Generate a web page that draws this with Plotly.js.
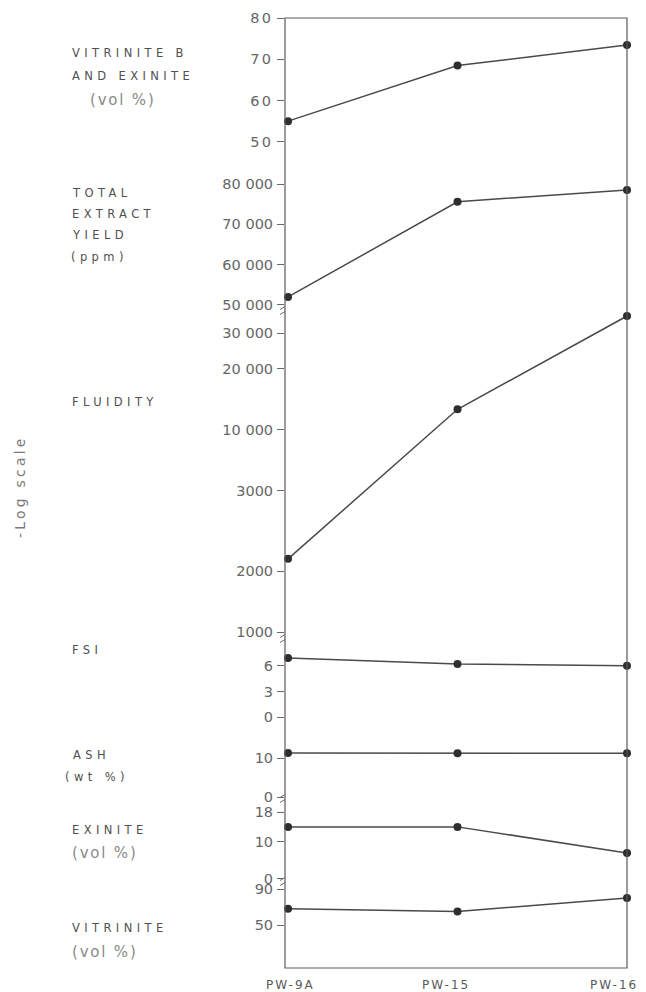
<!DOCTYPE html>
<html>
<head>
<meta charset="utf-8">
<script src="https://cdn.plot.ly/plotly-3.0.1.min.js"></script>
<style>
  html, body { margin: 0; padding: 0; background: #fff; }
  #chart { width: 646px; height: 992px; }
  .ytick text { letter-spacing: 2.2px; }
</style>
</head>
<body>
<div id="chart"></div>
<script>
// ---------------- DATA ----------------
const categories = ['PW-9A', 'PW-15', 'PW-16'];

const vitriniteBExinite = [55, 68.5, 73.5];     // vol %
const totalExtractYield = [52000, 75600, 78500]; // ppm
const fluidity = [2300, 12600, 36400];           // log scale
const fsi = [6.9, 6.2, 6.0];
const ash = [11.3, 11.2, 11.2];                  // wt %
const exinite = [14, 14, 7];                     // vol %
const vitrinite = [68, 65, 80];                  // vol %

const vitBTickVals = [50, 60, 70, 80];
const vitBTickText = ['50', '60', '70', '80'];
const extractTickVals = [50000, 60000, 70000, 80000];
const extractTickText = ['50 000', '60 000', '70 000', '80 000'];
const fluidityTickVals = [1000, 2000, 5000, 10000, 20000, 30000];
const fluidityTickText = ['1000', '2000', '3000', '10 000', '20 000', '30 000'];
const fsiTickVals = [0, 3, 6];
const fsiTickText = ['0', '3', '6'];
const ashTickVals = [0, 10];
const ashTickText = ['0', '10'];
const exiniteTickVals = [0, 10, 18];
const exiniteTickText = ['0', '10', '18'];
const vitriniteTickVals = [50, 90];
const vitriniteTickText = ['50', '90'];

const labelVitB = ['VITRINITE B', 'AND EXINITE', '(vol %)'];
const labelExtract = ['TOTAL', 'EXTRACT', 'YIELD', '(ppm)'];
const labelFluidity = ['FLUIDITY'];
const labelFsi = ['FSI'];
const labelAsh = ['ASH', '(wt %)'];
const labelExinite = ['EXINITE', '(vol %)'];
const labelVitrinite = ['VITRINITE', '(vol %)'];
const sideLabel = '-Log scale';

// ---------------- LAYOUT GEOMETRY ----------------
const W = 646, H = 992;
const L = 285, R = 627, T = 18, B = 968;
const fy = px => (B - px) / (B - T);
const fx = px => (px - L) / (R - L);

const panels = [
  { y: vitriniteBExinite, top: 18,  bot: 160, range: [45.55, 80.07], type: 'linear', tv: vitBTickVals, tt: vitBTickText },
  { y: totalExtractYield, top: 165, bot: 310, range: [48757, 84711], type: 'linear', tv: extractTickVals, tt: extractTickText },
  { y: fluidity,          top: 312, bot: 642, range: [2.951, 4.581], type: 'log',    tv: fluidityTickVals, tt: fluidityTickText },
  { y: fsi,               top: 648, bot: 722, range: [-0.55, 8.06],  type: 'linear', tv: fsiTickVals, tt: fsiTickText },
  { y: ash,               top: 735, bot: 800, range: [-0.77, 15.9],  type: 'linear', tv: ashTickVals, tt: ashTickText },
  { y: exinite,           top: 804, bot: 882, range: [-0.82, 20.15], type: 'linear', tv: exiniteTickVals, tt: exiniteTickText },
  { y: vitrinite,         top: 884, bot: 968, range: [2.2, 95.6],    type: 'linear', tv: vitriniteTickVals, tt: vitriniteTickText }
];

const lineColor = '#4a4a4a';
const markerColor = '#2e2e2e';
const tickFont = { family: 'DejaVu Sans', size: 14.5, color: '#666666' };

const traces = [];
const layout = {
  width: W, height: H,
  margin: { l: L, r: W - R, t: T, b: H - B, pad: 0 },
  paper_bgcolor: '#ffffff', plot_bgcolor: 'rgba(0,0,0,0)',
  showlegend: false,
  xaxis: {
    type: 'category', categoryorder: 'array', categoryarray: categories,
    range: [-0.018, 2], anchor: 'y7', side: 'bottom',
    showgrid: false, zeroline: false, showline: false, ticks: '',
    showticklabels: false
  },
  shapes: [],
  annotations: []
};

panels.forEach((p, i) => {
  const n = i + 1;
  const yName = n === 1 ? 'yaxis' : 'yaxis' + n;
  const yRef = n === 1 ? 'y' : 'y' + n;
  traces.push({
    x: categories, y: p.y, xaxis: 'x', yaxis: yRef,
    type: 'scatter', mode: 'lines+markers', cliponaxis: false,
    line: { color: lineColor, width: 1.5 },
    marker: { color: markerColor, size: 8 },
    hoverinfo: 'skip'
  });
  layout[yName] = {
    type: p.type, range: p.range, domain: [fy(p.bot), fy(p.top)],
    anchor: 'x', showgrid: false, zeroline: false, showline: false,
    ticks: 'outside', ticklen: 7, tickwidth: 1, tickcolor: '#6a6a6a',
    tickmode: 'array', tickvals: p.tv, ticktext: p.tt,
    tickfont: tickFont, ticklabelstandoff: 1
  };
});

// frame
layout.shapes.push({
  type: 'rect', xref: 'paper', yref: 'paper', x0: 0, x1: 1, y0: 0, y1: 1,
  line: { color: '#5a5a5a', width: 1.2 }, fillcolor: 'rgba(0,0,0,0)'
});
// axis break marks on the left axis
[[308, 313], [636, 641], [796, 801], [879, 884]].forEach(pair => {
  pair.forEach(py => {
    layout.shapes.push({
      type: 'line', xref: 'paper', yref: 'paper',
      x0: fx(L - 5), x1: fx(L), y0: fy(py + 1.5), y1: fy(py - 1.5),
      line: { color: '#6a6a6a', width: 1 }
    });
  });
});

const spacing = [];

// category labels under the axis (placed through the x scale)
const catShift = [3, -12, -13];
categories.forEach((c, i) => {
  layout.annotations.push({
    xref: 'x', yref: 'paper', x: c, y: fy(985), xshift: catShift[i],
    xanchor: 'center', yanchor: 'middle', showarrow: false, align: 'center',
    text: c, font: { family: 'DejaVu Sans', size: 12, color: '#5a5a5a' }
  });
  spacing.push('2px');
});

// left labels
const darkFont = { family: 'DejaVu Sans', size: 11.5, color: '#505050' };
const lightFont = { family: 'DejaVu Sans', size: 15, color: '#8a8a8a' };
function addLabel(text, xpx, ypx, light) {
  layout.annotations.push({
    xref: 'paper', yref: 'paper', x: fx(xpx), y: fy(ypx),
    xanchor: 'left', yanchor: 'middle', align: 'left', showarrow: false,
    text: text, font: light ? lightFont : darkFont, borderpad: 0
  });
  spacing.push(light ? '1.8px' : '4.4px');
}
addLabel(labelVitB[0], 71, 53, false);
addLabel(labelVitB[1], 71, 76, false);
addLabel(labelVitB[2], 89, 100, true);
addLabel(labelExtract[0], 71, 193, false);
addLabel(labelExtract[1], 71, 214, false);
addLabel(labelExtract[2], 71, 235, false);
addLabel(labelExtract[3], 70, 257, false);
addLabel(labelFluidity[0], 71, 402, false);
addLabel(labelFsi[0], 71, 650, false);
addLabel(labelAsh[0], 72, 755, false);
addLabel(labelAsh[1], 64, 777, false);
addLabel(labelExinite[0], 71, 830, false);
addLabel(labelExinite[1], 71, 853, true);
addLabel(labelVitrinite[0], 71, 928, false);
addLabel(labelVitrinite[1], 71, 952, true);

layout.annotations.push({
  xref: 'paper', yref: 'paper', x: fx(20), y: fy(487),
  xanchor: 'center', yanchor: 'middle', showarrow: false, textangle: -90,
  text: sideLabel, font: { family: 'DejaVu Sans', size: 14, color: '#7a7a7a' }
});
spacing.push('3.2px');

Plotly.newPlot('chart', traces, layout, { staticPlot: true, displayModeBar: false }).then(() => {
  document.querySelectorAll('g.annotation').forEach(g => {
    const idx = +g.getAttribute('data-index');
    const t = g.querySelector('text.annotation-text');
    if (t && spacing[idx]) t.style.letterSpacing = spacing[idx];
  });
});
</script>
</body>
</html>
